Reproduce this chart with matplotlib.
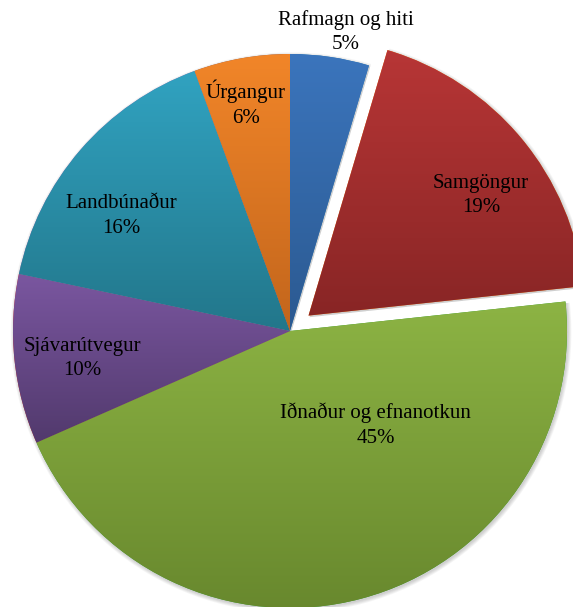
import numpy as np
import matplotlib
matplotlib.use("Agg")
import matplotlib.pyplot as plt
from matplotlib.patches import Wedge
from matplotlib.colors import LinearSegmentedColormap

# data (clockwise from 12 o'clock)
labels = ["Rafmagn og hiti", "Samgöngur", "Iðnaður og efnanotkun",
          "Sjávarútvegur", "Landbúnaður", "Úrgangur"]
shares = [4.6, 18.7, 45.1, 9.9, 16.1, 5.6]
pct_text = ["5%", "19%", "45%", "10%", "16%", "6%"]
explode = [0, 0.087, 0, 0, 0, 0]

# light (top) / dark (bottom) colours of each slice gradient
top_cols = ["#3B75BD", "#B83636", "#8DB444", "#7B57A1", "#31A3C1", "#F28629"]
bot_cols = ["#2B5990", "#882525", "#67872D", "#51396C", "#22768A", "#C2651C"]

# label centres in pie units (layout only)
label_pos = [(0.20, 1.08), (0.69, 0.49), (0.31, -0.34),
             (-0.75, -0.10), (-0.61, 0.415), (-0.16, 0.82)]

plt.rcParams["font.family"] = ["Liberation Serif", "DejaVu Serif"]

fig = plt.figure(figsize=(5.73, 6.07), dpi=100)
ax = fig.add_axes([0, 0, 1, 1])

wedges, _ = ax.pie(shares, explode=explode, startangle=90, counterclock=False,
                   wedgeprops=dict(linewidth=0))

# soft shadow behind each slice
for w in wedges:
    cx, cy = w.center
    for k in range(5):
        sh = Wedge((cx + 0.004, cy - 0.006), w.r + 0.003 * k, w.theta1, w.theta2,
                   facecolor="#000000", alpha=0.04, linewidth=0, zorder=0)
        ax.add_patch(sh)

# vertical gradient clipped to each slice
for w, c1, c2 in zip(wedges, top_cols, bot_cols):
    w.set_zorder(1)
    verts = w.get_path().vertices
    x0, x1 = verts[:, 0].min(), verts[:, 0].max()
    y0, y1 = verts[:, 1].min(), verts[:, 1].max()
    cmap = LinearSegmentedColormap.from_list("g", [c2, c1])
    grad = np.linspace(0, 1, 256).reshape(-1, 1)
    im = ax.imshow(grad, cmap=cmap, extent=[x0 - 0.01, x1 + 0.01, y0 - 0.01, y1 + 0.01],
                   origin="lower", aspect="auto", zorder=2, interpolation="bilinear")
    im.set_clip_path(w)

for name, pct, (lx, ly) in zip(labels, pct_text, label_pos):
    ax.text(lx, ly, name + "\n" + pct, ha="center", va="center", fontsize=15,
            linespacing=1.38, color="black", zorder=5)

# centre at (290, 331) px, radius 277 px
r_px = 277
ax.set_xlim(-290 / r_px, (573 - 290) / r_px)
ax.set_ylim((331 - 607) / r_px, 331 / r_px)
ax.set_aspect("auto")
ax.axis("off")

fig.savefig("out.png", dpi=100)
